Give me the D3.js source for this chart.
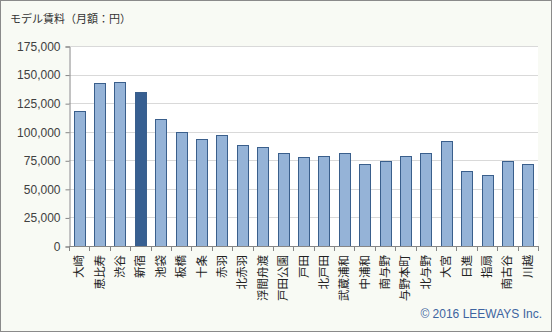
<!DOCTYPE html>
<html><head><meta charset="utf-8">
<script src="https://cdn.jsdelivr.net/npm/d3@7"></script>
<style>
html,body{margin:0;padding:0;background:#fff;}
svg{display:block;}
</style></head>
<body>
<svg id="chart" width="553" height="332"></svg>
<script>
const categories = ["大崎","恵比寿","渋谷","新宿","池袋","板橋","十条","赤羽","北赤羽","浮間舟渡","戸田公園","戸田","北戸田","武蔵浦和","中浦和","南与野","与野本町","北与野","大宮","日進","指扇","南古谷","川越"];
const rents = [118000,142500,143500,135000,111000,99500,93500,97000,88000,86500,81000,77500,78500,81000,71500,74000,78500,81000,91500,66000,62500,74000,71500];
const highlight = ["新宿"];
const yTicks = [0,25000,50000,75000,100000,125000,150000,175000];
const title = "モデル賃料（月額：円）";
const credit = "© 2016 LEEWAYS Inc.";

const svg = d3.select("#chart");
const W = 553, H = 332;
const m = {left:69, right:538, top:46, bottom:246};

svg.append("rect").attr("x",0.5).attr("y",0.5).attr("width",W-2).attr("height",H-1)
  .attr("fill","#f8faf4").attr("stroke","#8a8a8a").attr("stroke-width",1);

svg.append("rect").attr("x",m.left).attr("y",m.top).attr("width",m.right-m.left).attr("height",m.bottom-m.top)
  .attr("fill","#ffffff");

svg.append("text").attr("x",10).attr("y",23).text(title)
  .attr("font-family","'Noto Sans CJK JP', sans-serif").attr("font-size","11px").attr("fill","#333");

const x = d3.scaleBand().domain(categories).range([m.left, m.right]).paddingInner(0.46).paddingOuter(0.23);
const y = d3.scaleLinear().domain([0,175000]).range([m.bottom, m.top]);

// gridlines
svg.append("g").selectAll("line").data(yTicks.filter(d=>d>0)).join("line")
  .attr("x1",m.left).attr("x2",m.right)
  .attr("y1",d=>Math.round(y(d))+0.5).attr("y2",d=>Math.round(y(d))+0.5)
  .attr("stroke","#d9d9d9").attr("stroke-width",1);

// y axis
const yAxis = svg.append("g").attr("transform",`translate(${m.left+0.5},0.5)`)
  .call(d3.axisLeft(y).tickValues(yTicks).tickSize(4).tickPadding(5).tickFormat(d3.format(",")));
yAxis.select(".domain").attr("stroke","#868686");
yAxis.selectAll(".tick line").attr("stroke","#868686");
yAxis.selectAll("text").attr("font-family","'Liberation Sans', Arial, sans-serif").attr("font-size","12px").attr("fill","#404040");

// bars
svg.append("g").selectAll("rect").data(categories).join("rect")
  .attr("x",d=>Math.round(x(d))+0.5)
  .attr("y",(d,i)=>Math.round(y(rents[i]))+0.5)
  .attr("width",Math.round(x.bandwidth()))
  .attr("height",(d,i)=>Math.round(y(0))-Math.round(y(rents[i])))
  .attr("fill",d=>highlight.includes(d)?"#375f91":"#95b3d7")
  .attr("stroke","#3a5f8c").attr("stroke-width",1);

// x axis
const step = x.step();
const bounds = d3.range(categories.length+1).map(i=>m.left + i*(m.right-m.left)/categories.length);
svg.append("line").attr("x1",m.left).attr("x2",m.right).attr("y1",m.bottom+0.5).attr("y2",m.bottom+0.5)
  .attr("stroke","#868686");
svg.append("g").selectAll("line").data(bounds).join("line")
  .attr("x1",d=>Math.round(d)+0.5).attr("x2",d=>Math.round(d)+0.5)
  .attr("y1",m.bottom).attr("y2",m.bottom+5).attr("stroke","#868686");

svg.append("g").selectAll("text").data(categories).join("text")
  .attr("transform",d=>`translate(${x(d)+x.bandwidth()/2+4},${m.bottom+9}) rotate(-90)`)
  .attr("text-anchor","end")
  .attr("font-family","'Noto Sans CJK JP', sans-serif").attr("font-size","11.5px").attr("fill","#222")
  .text(d=>d);

svg.append("text").attr("x",542).attr("y",318).attr("text-anchor","end").text(credit)
  .attr("font-family","'Liberation Sans', Arial, sans-serif").attr("font-size","12px").attr("fill","#3d64a0");
</script>
</body></html>
